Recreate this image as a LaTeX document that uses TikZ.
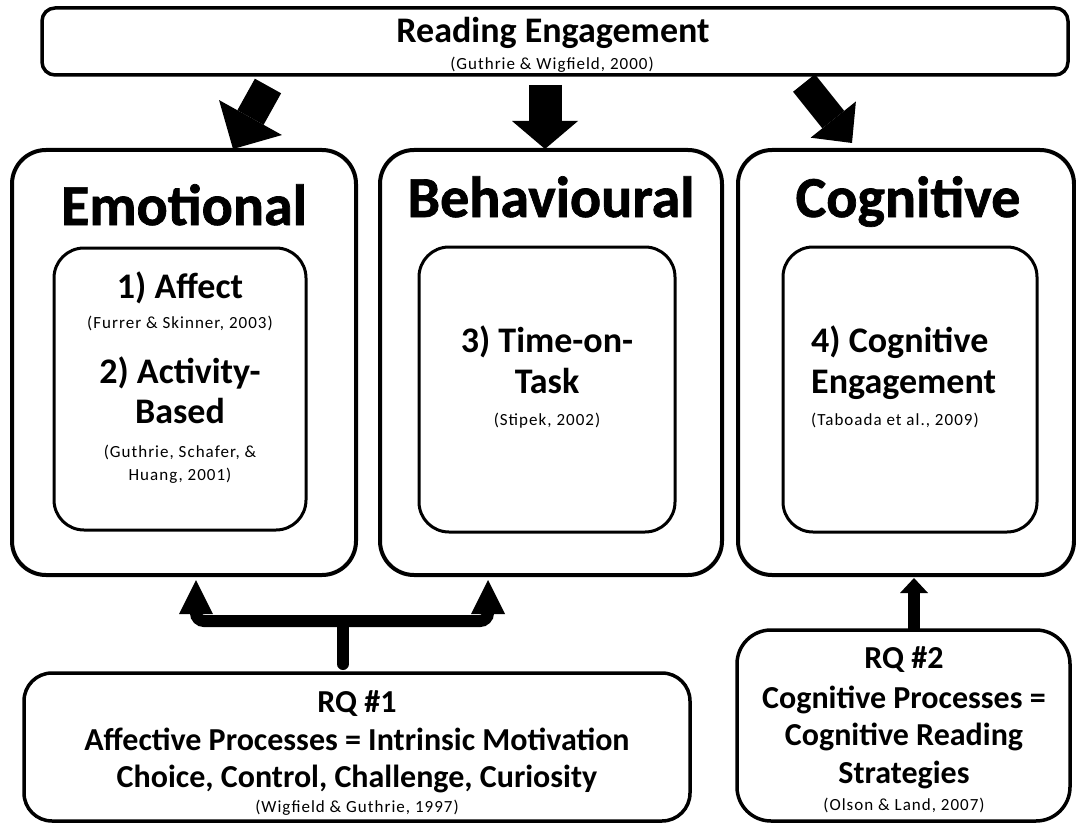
\documentclass[tikz,border=0pt]{standalone}
\usepackage{fontspec}
\setmainfont{Carlito}
\usetikzlibrary{arrows.meta}
\begin{document}
\begin{tikzpicture}[x=1pt,y=-1pt,
  outerbox/.style={draw, line width=4pt, rounded corners=34pt, inner sep=0pt, outer sep=0pt},
  innerbox/.style={draw, line width=3pt, rounded corners=30pt, inner sep=0pt, outer sep=0pt},
  topbox/.style={draw, line width=3.5pt, rounded corners=13pt, inner sep=0pt, outer sep=0pt},
  rqbox/.style={draw, line width=3.5pt, rounded corners=28pt, inner sep=0pt, outer sep=0pt},
  ttl/.style={anchor=base, inner sep=0pt, font=\fontsize{58}{60}\selectfont\bfseries\addfontfeatures{FakeBold=1.2}},
  big/.style={anchor=base, inner sep=0pt, font=\fontsize{36}{38}\selectfont\bfseries},
  rqt/.style={anchor=base, inner sep=0pt, font=\fontsize{32}{34}\selectfont\bfseries},
  cite/.style={anchor=base, inner sep=0pt, font=\fontsize{17}{19}\selectfont\addfontfeatures{LetterSpace=6}},
  thickconn/.style={line width=12pt},
  headA/.style={-{Triangle[width=#1]}},
]
\useasboundingbox[fill=white] (0,0) rectangle (1076,824);

% boxes
\node[topbox, minimum width=1026pt, minimum height=67pt] (top) at (555,41.5) {};
\node[outerbox, minimum width=344pt, minimum height=425pt] (emo) at (184,362.5) {};
\node[outerbox, minimum width=342pt, minimum height=425pt] (beh) at (551,362.5) {};
\node[outerbox, minimum width=336pt, minimum height=425pt] (cog) at (906,362.5) {};
\node[innerbox, minimum width=252pt, minimum height=282pt] (emoin) at (180,389) {};
\node[innerbox, minimum width=256pt, minimum height=285pt] (behin) at (547,389.5) {};
\node[innerbox, minimum width=254pt, minimum height=285pt] (cogin) at (910,389.5) {};
\node[rqbox, minimum width=666pt, minimum height=148pt] (rq1) at (357,747) {};
\node[rqbox, minimum width=333pt, minimum height=191pt, rounded corners=34pt] (rq2) at (903.5,725.5) {};

% top box text
\node[big] (reT) at (553,43) {Reading Engagement};
\node[cite] (reC) at (552,70) {(Guthrie \& Wigfield, 2000)};

% titles
\node[ttl] (emoT) at (184,225) {Emotional};
\node[ttl] (behT) at (551,217) {Behavioural};
\node[ttl] (cogT) at (908,217) {Cognitive};

% emotional inner text
\node[big] (e1) at (180,298) {1) Affect};
\node[cite] (e1c) at (180,328) {(Furrer \& Skinner, 2003)};
\node[big] (e2) at (180,383) {2) Activity-};
\node[big] (e3) at (180,423) {Based};
\node[cite] (e3c) at (180,457) {(Guthrie, Schafer, \&};
\node[cite] (e4c) at (180,480) {Huang, 2001)};

% behavioural inner text
\node[big] (b1) at (547,352) {3) Time-on-};
\node[big] (b2) at (547,393) {Task};
\node[cite] (bc) at (547,425) {(Stipek, 2002)};

% cognitive inner text
\node[big, anchor=base west] (c1) at (811,352) {4) Cognitive};
\node[big, anchor=base west] (c2) at (811,393) {Engagement};
\node[cite, anchor=base west] (cc) at (811,425) {(Taboada et al., 2009)};

% RQ1 text
\node[rqt] (r1a) at (357,712) {RQ \#1};
\node[rqt] (r1b) at (357,750) {Affective Processes = Intrinsic Motivation};
\node[rqt] (r1c) at (357,787) {Choice, Control, Challenge, Curiosity};
\node[cite] (r1d) at (357,812) {(Wigfield \& Guthrie, 1997)};

% RQ2 text
\node[rqt] (r2a) at (904,668) {RQ \#2};
\node[rqt] (r2b) at (904,708) {Cognitive Processes =};
\node[rqt] (r2c) at (904,745) {Cognitive Reading};
\node[rqt] (r2d) at (904,783) {Strategies};
\node[cite] (r2e) at (904,810) {(Olson \& Land, 2007)};

% block arrows from top box
\draw[line width=30pt, -{Triangle[width=72pt 0 0,length=36pt 0 0,line width=0pt 0 0]}]
  ([xshift=-287pt,yshift=-11pt]top.south) -- ([xshift=49pt,yshift=1pt]emo.north);
\draw[line width=33pt, -{Triangle[width=66pt 0 0,length=28pt 0 0,line width=0pt 0 0]}]
  ([xshift=-10pt,yshift=-10pt]top.south) -- ([xshift=-6pt,yshift=1pt]beh.north);
\draw[line width=28pt, -{Triangle[width=58pt 0 0,length=30pt 0 0,line width=0pt 0 0]}]
  ([xshift=249pt,yshift=-8pt]top.south) -- ([xshift=-54pt,yshift=7pt]cog.north);

% brace arrows from RQ1
\coordinate (bj) at (343,621);
\draw[thickconn, line cap=round] ([xshift=-14pt,yshift=9pt]rq1.north) -- (bj);
\draw[thickconn, rounded corners=8pt, -{Triangle[width=34pt 0 0,length=34pt 0 0,line width=0pt 0 0]}]
  (bj) -| ([xshift=12pt,yshift=-5pt]emo.south);
\draw[thickconn, rounded corners=8pt, -{Triangle[width=34pt 0 0,length=34pt 0 0,line width=0pt 0 0]}]
  (bj) -| ([xshift=-63pt,yshift=-5pt]beh.south);

% arrow from RQ2
\draw[thickconn, -{Triangle[width=28pt 0 0,length=15pt 0 0,line width=0pt 0 0]}]
  ([xshift=10.5pt]rq2.north) -- ([xshift=8pt,yshift=-3pt]cog.south);
\end{tikzpicture}
\end{document}
